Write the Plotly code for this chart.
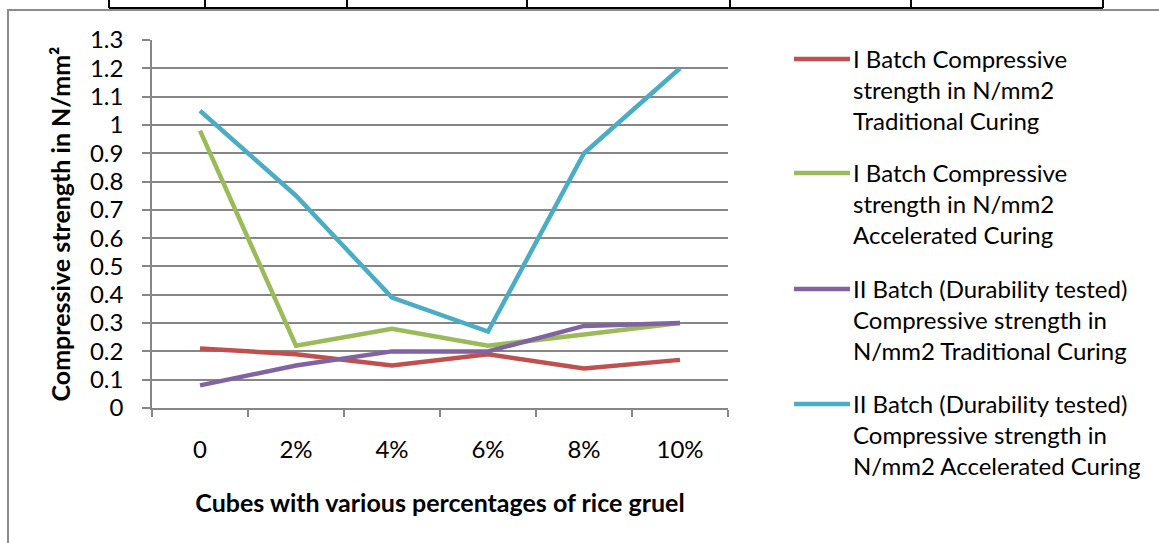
import plotly.graph_objects as go

# Category labels along the x axis
categories = ["0", "2%", "4%", "6%", "8%", "10%"]

# Compressive strength values (N/mm2) for each batch / curing type
batch1_traditional = [0.21, 0.19, 0.15, 0.19, 0.14, 0.17]
batch1_accelerated = [0.98, 0.22, 0.28, 0.22, 0.26, 0.30]
batch2_traditional = [0.08, 0.15, 0.20, 0.20, 0.29, 0.30]
batch2_accelerated = [1.05, 0.75, 0.39, 0.27, 0.90, 1.20]

series_names = [
    "I Batch Compressive<br>strength in N/mm2<br>Traditional Curing",
    "I Batch Compressive<br>strength in N/mm2<br>Accelerated Curing",
    "II Batch (Durability tested)<br>Compressive strength in<br>N/mm2 Traditional Curing",
    "II Batch (Durability tested)<br>Compressive strength in<br>N/mm2 Accelerated Curing",
]
series_values = [batch1_traditional, batch1_accelerated, batch2_traditional, batch2_accelerated]
series_colors = ["#C0504D", "#9BBB59", "#8064A2", "#4BACC6"]

y_ticks = [round(0.1 * i, 1) for i in range(14)]
y_tick_text = ["0", "0.1", "0.2", "0.3", "0.4", "0.5", "0.6", "0.7", "0.8", "0.9",
               "1", "1.1", "1.2", "1.3"]

W, H = 1159, 543
L, R, T, B = 152, 728, 40, 408  # plot area in pixels
FONT = "Lato"
GRID = "#868686"
LEGEND_ROWS = [59, 173, 289, 404]  # first text line of each legend entry (px)

fig = go.Figure()
for name, vals, col in zip(series_names, series_values, series_colors):
    fig.add_trace(go.Scatter(
        x=categories, y=vals, mode="lines", name=name.replace("<br>", " "),
        line=dict(color=col, width=4.5), showlegend=False,
    ))


def px_x(px):
    return (px - L) / (R - L)


def px_y(py):
    return (B - py) / (B - T)


def line_px(x0, y0, x1, y1, color, width):
    fig.add_shape(type="line", xref="paper", yref="paper",
                  x0=px_x(x0), y0=px_y(y0), x1=px_x(x1), y1=px_y(y1),
                  line=dict(color=color, width=width), layer="above")


# Outer chart frame (top and left edges)
line_px(7, 10, W, 10, "#8C8C8C", 2)
line_px(8, 10, 8, H, "#8C8C8C", 2)

# Bottom row of the table above the chart
line_px(109, 8, 1103, 8, "#000000", 2)
for xv in [109, 205, 347, 527, 730, 911, 1103]:
    line_px(xv, 0, xv, 8, "#000000", 2)

# Legend: a line sample beside a three-line label for each series
for name, col, row in zip(series_names, series_colors, LEGEND_ROWS):
    line_px(794, row, 850, row, col, 4.5)
    fig.add_annotation(
        xref="paper", yref="paper", x=px_x(852), y=px_y(row - 16),
        xanchor="left", yanchor="top", align="left", showarrow=False,
        borderpad=0, text=name,
        font=dict(family=FONT, size=24, color="#000000"),
    )

fig.update_layout(
    width=W, height=H,
    margin=dict(l=L, r=W - R, t=T, b=H - B, autoexpand=False),
    paper_bgcolor="white", plot_bgcolor="white",
    font=dict(family=FONT, size=24, color="#000000"),
    showlegend=False,
    xaxis=dict(
        type="category", tickson="boundaries",
        range=[-0.5, 5.5],
        showgrid=False, showline=True, linecolor=GRID, linewidth=1.5,
        ticks="outside", ticklen=7, tickcolor=GRID, tickwidth=1.5,
        ticklabelstandoff=19,
        tickfont=dict(family=FONT, size=24),
        title=dict(text="<b>Cubes with various percentages of rice gruel</b>",
                   font=dict(family=FONT, size=25), standoff=33),
        zeroline=False,
    ),
    yaxis=dict(
        range=[0, 1.3], tickvals=y_ticks, ticktext=y_tick_text,
        showgrid=True, gridcolor=GRID, gridwidth=1.5,
        showline=True, linecolor=GRID, linewidth=1.5,
        ticks="outside", ticklen=8, tickcolor=GRID, tickwidth=1.5,
        ticklabelstandoff=14,
        tickfont=dict(family=FONT, size=24),
        title=dict(text="<b>Compressive strength in N/mm²</b>",
                   font=dict(family=FONT, size=25), standoff=12),
        zeroline=False,
    ),
)

fig.write_html("out.html")
